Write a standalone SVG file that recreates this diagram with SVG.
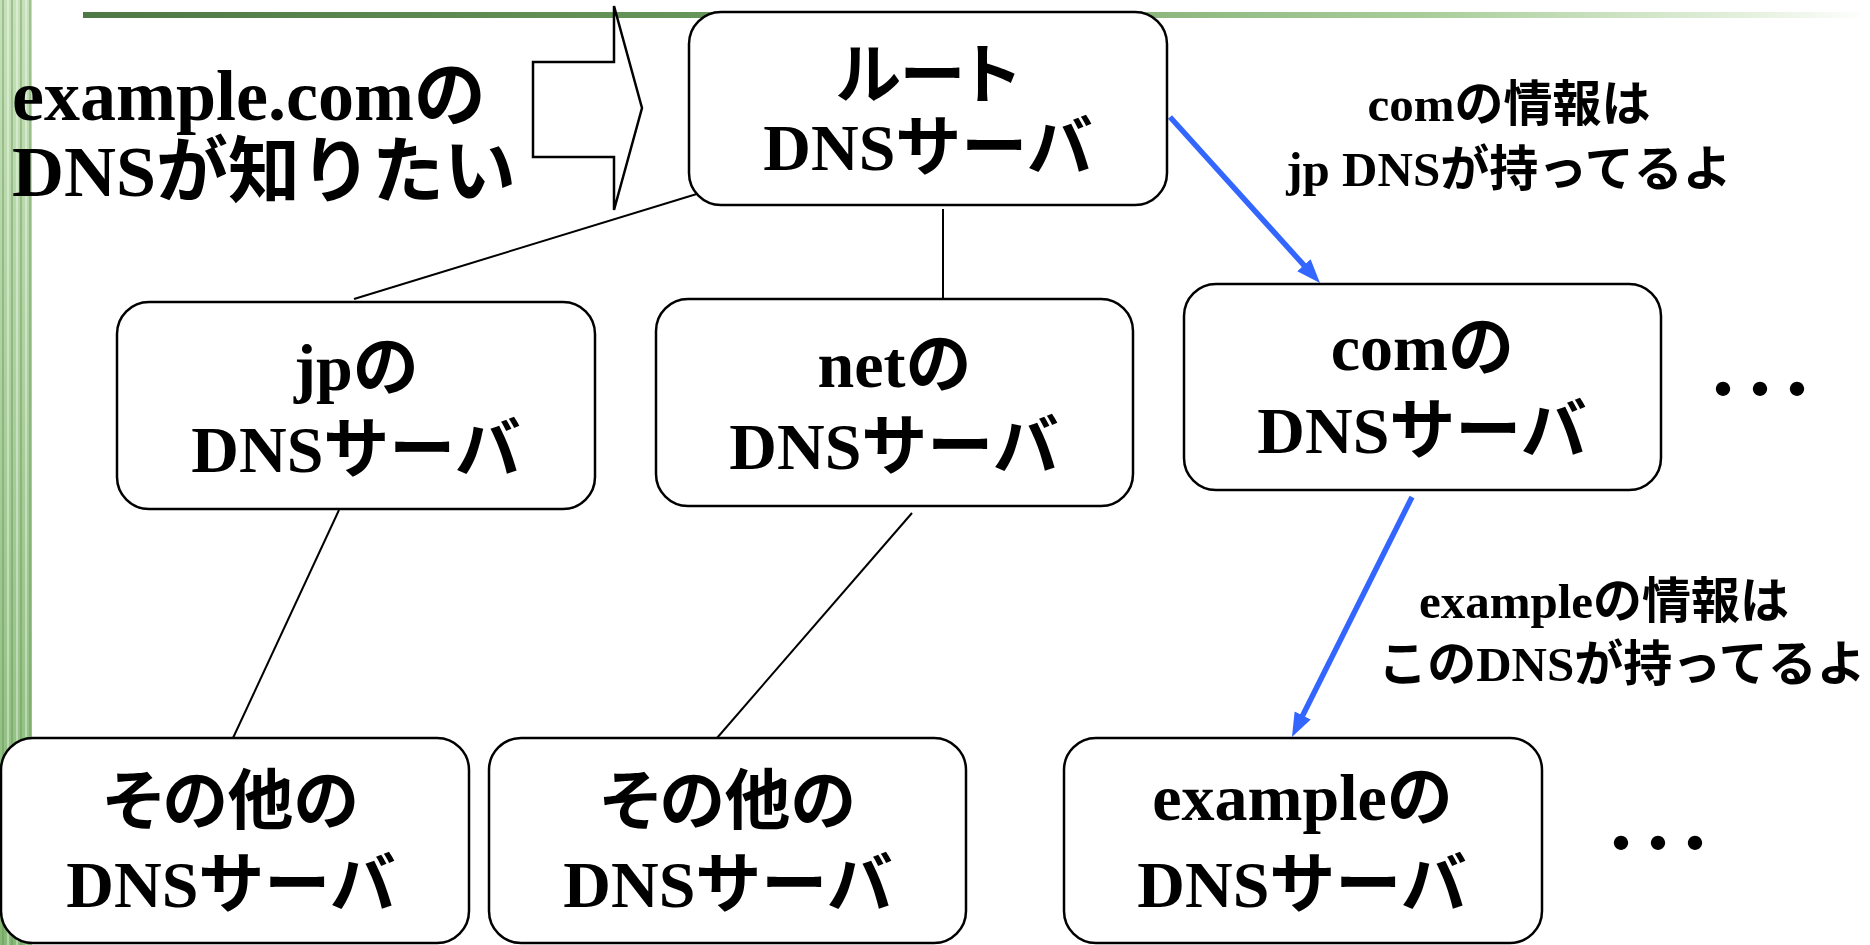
<svg xmlns="http://www.w3.org/2000/svg" width="1870" height="945" viewBox="0 0 1870 945">
<defs>
<style>
.box{fill:#fff;stroke:#000;stroke-width:2.5}
.t{font-family:"Liberation Serif","Noto Sans CJK JP",serif;font-weight:bold;fill:#000}
.p{font-feature-settings:"palt"}
.n{font-size:66px;text-anchor:middle}
.lbl{font-size:49px;text-anchor:middle}
.ttl{font-size:72px}
.ln{stroke:#000;stroke-width:2;fill:none}
.blue{stroke:#3366ff;stroke-width:5.5;fill:none;marker-end:url(#ah)}
.dots{font-family:"Noto Sans CJK JP",sans-serif;font-weight:bold;font-size:56px;letter-spacing:-19px;fill:#000}
</style>
<linearGradient id="bar" x1="0" y1="0" x2="1" y2="0">
<stop offset="0" stop-color="#4e7845"/>
<stop offset="0.4" stop-color="#6a9a5d"/>
<stop offset="0.75" stop-color="#a8cd99"/>
<stop offset="0.93" stop-color="#e4f0dd"/>
<stop offset="1" stop-color="#ffffff"/>
</linearGradient>
<linearGradient id="stripe" x1="0" y1="0" x2="0" y2="1">
<stop offset="0" stop-color="#c6e1b9"/>
<stop offset="1" stop-color="#86b876"/>
</linearGradient>
<marker id="ah" markerUnits="userSpaceOnUse" markerWidth="26" markerHeight="20" refX="4" refY="9" orient="auto">
<path d="M0,0 L24,9 L0,18 z" fill="#3366ff"/>
</marker>
</defs>

<g id="background">
<rect x="0" y="0" width="32" height="945" fill="url(#stripe)"/>
<g stroke-width="1.5" opacity="0.5">
<line x1="3" y1="0" x2="3" y2="945" stroke="#5f9150"/>
<line x1="8" y1="0" x2="8" y2="945" stroke="#ffffff"/>
<line x1="12" y1="0" x2="12" y2="945" stroke="#5f9150"/>
<line x1="17" y1="0" x2="17" y2="945" stroke="#ffffff"/>
<line x1="21" y1="0" x2="21" y2="945" stroke="#5f9150"/>
<line x1="26" y1="0" x2="26" y2="945" stroke="#ffffff"/>
<line x1="30" y1="0" x2="30" y2="945" stroke="#5f9150"/>
</g>
<rect x="83" y="12" width="1787" height="6" fill="url(#bar)"/>
</g>

<g id="question">
<path d="M533,62 L614,62 L614,6 L642,108 L614,210 L614,157 L533,157 Z" fill="#fff" stroke="#000" stroke-width="2.5" stroke-linejoin="miter"/>
<text class="t ttl" x="12" y="120">example.comの</text>
<text class="t ttl" x="12" y="196">DNSが知りたい</text>
</g>

<g id="connectors">
<line class="ln" x1="700" y1="193" x2="354" y2="299"/>
<line class="ln" x1="943" y1="209" x2="943" y2="298"/>
<line class="ln" x1="339" y1="510" x2="233" y2="738"/>
<line class="ln" x1="912" y1="513" x2="717" y2="738"/>
<line class="blue" x1="1170" y1="117" x2="1306.6" y2="268.2"/>
<line class="blue" x1="1412" y1="497" x2="1300.9" y2="719.1"/>
</g>

<g id="root">
<rect class="box" x="689" y="12" width="478" height="193" rx="32"/>
<text class="t n p" x="928" y="98">ルート</text>
<text class="t n" x="928" y="170">DNSサーバ</text>
</g>
<g id="jp">
<rect class="box" x="117" y="302" width="478" height="207" rx="32"/>
<text class="t n p" x="356" y="390">jpの</text>
<text class="t n" x="356" y="472">DNSサーバ</text>
</g>
<g id="net">
<rect class="box" x="656" y="299" width="477" height="207" rx="32"/>
<text class="t n p" x="894" y="387">netの</text>
<text class="t n" x="894" y="469">DNSサーバ</text>
</g>
<g id="com">
<rect class="box" x="1184" y="284" width="477" height="206" rx="32"/>
<text class="t n p" x="1422" y="370">comの</text>
<text class="t n" x="1422" y="453">DNSサーバ</text>
</g>
<g id="other1">
<rect class="box" x="1" y="738" width="468" height="205" rx="32"/>
<text class="t n p" x="231" y="824">その他の</text>
<text class="t n" x="231" y="907">DNSサーバ</text>
</g>
<g id="other2">
<rect class="box" x="489" y="738" width="477" height="205" rx="32"/>
<text class="t n p" x="728" y="824">その他の</text>
<text class="t n" x="728" y="907">DNSサーバ</text>
</g>
<g id="example">
<rect class="box" x="1064" y="738" width="478" height="205" rx="32"/>
<text class="t n p" x="1302" y="820">exampleの</text>
<text class="t n" x="1302" y="907">DNSサーバ</text>
</g>

<g id="labels">
<text class="t lbl" x="1509" y="121">comの情報は</text>
<text class="t lbl" x="1509" y="186">jp DNSが持ってるよ</text>
<text class="t lbl" x="1604" y="618">exampleの情報は</text>
<text class="t lbl" x="1622" y="681">このDNSが持ってるよ</text>
<text class="dots" x="1695" y="410">・・・</text>
<text class="dots" x="1593" y="864">・・・</text>
</g>
</svg>
